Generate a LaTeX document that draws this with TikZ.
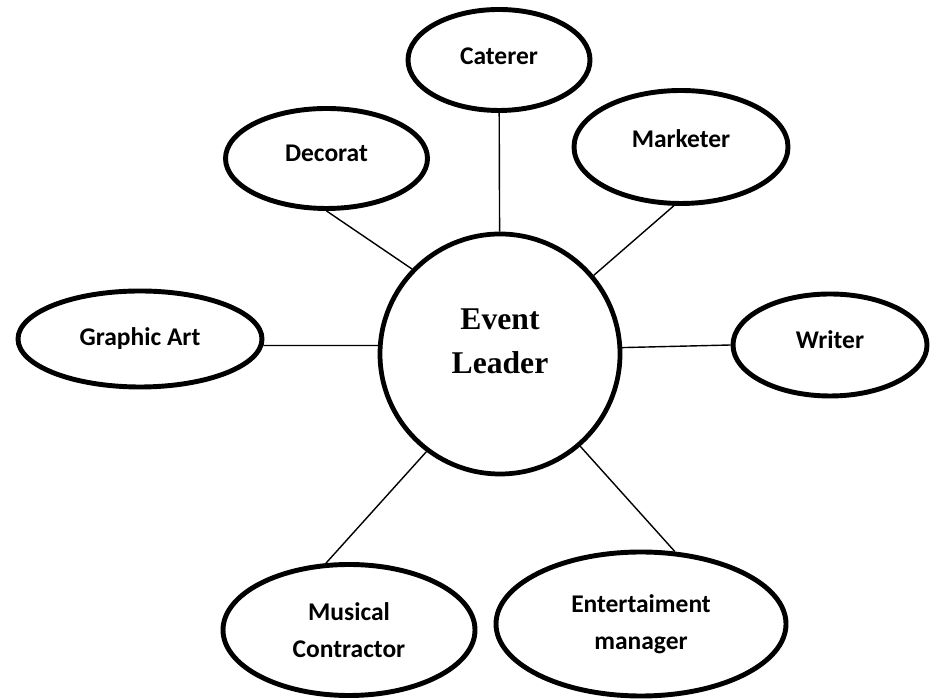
\documentclass[tikz,border=0pt]{standalone}
\usepackage{fontspec}
\setmainfont{Carlito}
\newfontfamily\leadfont{Liberation Serif}
\usetikzlibrary{shapes.geometric}

\tikzset{
  role/.style={ellipse,draw,line width=2.8pt,inner sep=0pt,align=center,
    font=\fontsize{14.5}{21}\selectfont\bfseries},
  hub/.style={circle,draw,line width=2.7pt,minimum size=4.8cm,inner sep=0pt},
  hubtext/.style={align=center,yshift=0.26cm,
    font=\leadfont\fontsize{18}{25}\selectfont\bfseries},
  link/.style={line width=0.8pt}
}

\begin{document}
\begin{tikzpicture}
  \useasboundingbox (0,0) rectangle (18.6,13.98);
  % centre
  \node[hub,label={[hubtext]center:Event\\Leader}] (lead) at (10,6.9) {};
  % roles round it
  \node[role,minimum width=3.64cm,minimum height=2.02cm,text depth=4pt] (cat) at (9.98,12.78) {Caterer};
  \node[role,minimum width=4.04cm,minimum height=2.0cm,text depth=6pt] (dec) at (6.53,10.81) {Decorat};
  \node[role,minimum width=4.28cm,minimum height=2.26cm,text depth=10pt] (mkt) at (13.62,11.04) {Marketer};
  \node[role,minimum width=4.88cm,minimum height=1.92cm] (ga) at (2.8,7.2) {Graphic Art};
  \node[role,minimum width=3.88cm,minimum height=2.04cm,text depth=6pt] (wr) at (16.6,7.08) {Writer};
  \node[role,minimum width=5.04cm,minimum height=2.62cm] (mus) at (6.98,1.38) {Musical\\Contractor};
  \node[role,minimum width=5.8cm,minimum height=2.88cm] (ent) at (12.82,1.5) {Entertaiment\\manager};
  % links
  \draw[link] (cat) -- (lead);
  \draw[link] (dec.south) -- (lead.136);
  \draw[link] (mkt.-97) -- (lead.40);
  \draw[link] (ga.-3) -- (lead.176);
  \draw[link] (lead.3) -- (wr.west);
  \draw[link] (mus.109) -- (lead.233);
  \draw[link] (ent.65) -- (lead.-49);
\end{tikzpicture}
\end{document}
